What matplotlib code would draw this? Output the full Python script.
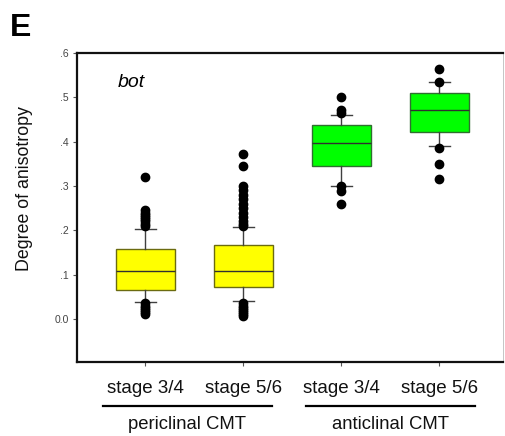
import numpy as np
import matplotlib
matplotlib.use("Agg")
import matplotlib.pyplot as plt

plt.rcParams['font.family'] = ['Liberation Sans', 'DejaVu Sans']

# box statistics (degree of anisotropy)
labels = ["stage 3/4", "stage 5/6", "stage 3/4", "stage 5/6"]
groups = ["periclinal CMT", "anticlinal CMT"]
q1 = [0.065, 0.072, 0.346, 0.421]
med = [0.108, 0.108, 0.398, 0.471]
q3 = [0.157, 0.166, 0.438, 0.511]
whislo = [0.038, 0.040, 0.301, 0.390]
whishi = [0.204, 0.207, 0.461, 0.534]
fliers = [
    [0.21, 0.215, 0.22, 0.225, 0.23, 0.235, 0.24, 0.245, 0.32,
     0.035, 0.03, 0.025, 0.02, 0.015, 0.01],
    [0.21, 0.215, 0.22, 0.23, 0.24, 0.25, 0.26, 0.27, 0.28, 0.29, 0.30, 0.345, 0.372,
     0.037, 0.03, 0.025, 0.02, 0.015, 0.01, 0.007],
    [0.502, 0.472, 0.466, 0.30, 0.289, 0.259],
    [0.565, 0.536, 0.385, 0.349, 0.315],
]
face_colors = ["#ffff00", "#ffff00", "#00ff00", "#00ff00"]
edge_colors = ["#6b6b10", "#6b6b10", "#2f6f2f", "#2f6f2f"]

fig = plt.figure(figsize=(5.06, 4.36), dpi=100)
ax = fig.add_axes([0.152, 0.170, 0.842, 0.708])

stats = []
for i in range(len(labels)):
    stats.append(dict(med=med[i], q1=q1[i], q3=q3[i], whislo=whislo[i],
                      whishi=whishi[i], fliers=fliers[i], label=labels[i]))

pos = np.arange(1, len(labels) + 1)
bp = ax.bxp(stats, positions=pos, widths=0.6, patch_artist=True,
            capwidths=0.22,
            whiskerprops=dict(color="#404040", lw=1.0),
            capprops=dict(color="#404040", lw=1.0),
            medianprops=dict(color="#303030", lw=1.0),
            flierprops=dict(marker="o", markerfacecolor="black",
                            markeredgecolor="black", markersize=6))
for patch, fc, ec in zip(bp["boxes"], face_colors, edge_colors):
    patch.set_facecolor(fc)
    patch.set_edgecolor(ec)
    patch.set_linewidth(1.0)

ax.set_xlim(0.3, 4.65)
ax.set_ylim(-0.097, 0.6)
ax.set_yticks([0.0, 0.1, 0.2, 0.3, 0.4, 0.5, 0.6])
ax.set_yticklabels(["0.0", ".1", ".2", ".3", ".4", ".5", ".6"])
ax.set_xticks(pos)
ax.set_xticklabels(labels, fontsize=13.5, color="#111111")
ax.tick_params(axis="y", labelsize=7.5, labelcolor="#444444", length=3,
               width=0.8, color="#555555", pad=3)
ax.tick_params(axis="x", length=3, width=0.8, color="#555555", pad=10)

for side in ["left", "bottom", "top"]:
    ax.spines[side].set_linewidth(1.6)
    ax.spines[side].set_color("#111111")
ax.spines["right"].set_linewidth(0.6)
ax.spines["right"].set_color("#bbbbbb")

ax.set_ylabel("Degree of anisotropy", fontsize=12.8, color="#111111")
ax.yaxis.set_label_coords(-0.103, 0.563)

ax.text(0.095, 0.905, "bot", transform=ax.transAxes, fontsize=14,
        style="italic", ha="left", va="center")
fig.text(0.02, 0.935, "E", fontsize=23, fontweight="bold", ha="left", va="center")

# group lines and labels under the tick labels
for g, (x0, x1) in enumerate([(103, 272), (306, 475)]):
    fig.add_artist(plt.Line2D([x0 / 506, x1 / 506], [1 - 406 / 436, 1 - 406 / 436],
                              color="black", lw=1.6))
    fig.text((x0 + x1) / 2 / 506, 1 - 424 / 436, groups[g], fontsize=13.3,
             ha="center", va="center", color="#111111")

fig.savefig("out.png", dpi=100)
